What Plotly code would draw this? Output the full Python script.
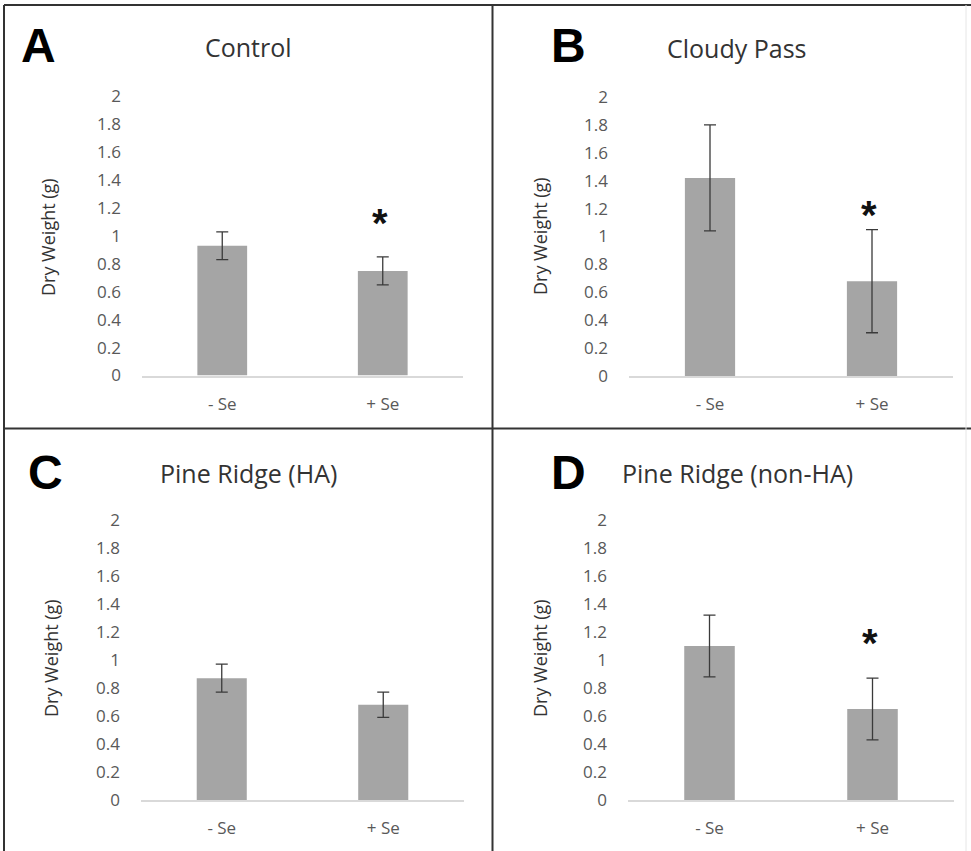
import plotly.graph_objects as go

W, H = 971, 851

# Data
categories = ["- Se", "+ Se"]
panel_letters = ["A", "B", "C", "D"]
panel_titles = ["Control", "Cloudy Pass", "Pine Ridge (HA)", "Pine Ridge (non-HA)"]
means_control = [0.93, 0.75]
err_control = [0.10, 0.10]
means_cloudy = [1.42, 0.68]
err_cloudy = [0.38, 0.37]
means_pr_ha = [0.87, 0.68]
err_pr_ha = [0.10, 0.09]
means_pr_nonha = [1.10, 0.65]
err_pr_nonha = [0.22, 0.22]
# significance marker height (in axis units) per panel, None = no marker
star_control = 1.125
star_cloudy = 1.18
star_pr_ha = None
star_pr_nonha = 1.15
y_ticks = [0, 0.2, 0.4, 0.6, 0.8, 1, 1.2, 1.4, 1.6, 1.8, 2]
y_tick_text = ["0", "0.2", "0.4", "0.6", "0.8", "1", "1.2", "1.4", "1.6", "1.8", "2"]

panels = [
    (means_control, err_control, star_control),
    (means_cloudy, err_cloudy, star_cloudy),
    (means_pr_ha, err_pr_ha, star_pr_ha),
    (means_pr_nonha, err_pr_nonha, star_pr_nonha),
]

# pixel geometry of each plot area: (x0, x1, y_top, y_bottom)
boxes = [
    (142, 463, 96.5, 375.5),
    (629, 953, 97, 376),
    (141, 464, 520, 800),
    (628, 954, 520, 800),
]
# panel letter / title / axis-title positions in px
letter_pos = [(38, 45), (568, 45), (45, 472), (568, 472)]
title_pos = [(248, 47), (737, 48), (248, 473), (737, 473)]
ytitle_pos = [(48, 237), (540, 236), (51, 658), (540, 658)]

def px(x):
    return x / W

def py(y):
    return 1 - y / H

fig = go.Figure()
annotations = []
shapes = []

BAR = "#a5a5a5"
TXT = "#595959"
FONT = "Open Sans, Lato, sans-serif"
BOLD = "Liberation Sans, Arial, sans-serif"

for i, ((means, errs, star), (x0, x1, yt, yb)) in enumerate(zip(panels, boxes)):
    n = i + 1
    xa = "x" if n == 1 else f"x{n}"
    ya = "y" if n == 1 else f"y{n}"
    fig.add_trace(go.Bar(
        x=categories, y=means, xaxis=xa, yaxis=ya,
        width=0.31, marker=dict(color=BAR, line=dict(width=0)),
        error_y=dict(type="data", array=errs, visible=True,
                     color="#3a3a3a", thickness=1.3, width=6),
        showlegend=False, hoverinfo="skip",
    ))
    xkey = "xaxis" if n == 1 else f"xaxis{n}"
    ykey = "yaxis" if n == 1 else f"yaxis{n}"
    fig.update_layout(**{
        xkey: dict(domain=[px(x0), px(x1)], anchor=ya, range=[-0.5, 1.5],
                   showline=True, linecolor="#d9d9d9", linewidth=2,
                   showgrid=False, zeroline=False, ticks="", automargin=False,
                   tickfont=dict(family=FONT, size=17, color=TXT),
                   ticklabelstandoff=12, fixedrange=True),
        ykey: dict(domain=[py(yb), py(yt)], anchor=xa, range=[0, 2],
                   tickvals=y_ticks, ticktext=y_tick_text,
                   showline=False, showgrid=False, zeroline=False, ticks="",
                   automargin=False,
                   tickfont=dict(family=FONT, size=17, color=TXT),
                   ticklabelstandoff=20, fixedrange=True),
    })
    if star is not None:
        annotations.append(dict(
            x=categories[1], y=star, xref=xa, yref=ya, text="<b>*</b>",
            showarrow=False, yanchor="middle", yshift=-4, xshift=-3,
            font=dict(family=BOLD, size=40, color="#111111"),
        ))
    lx, ly = letter_pos[i]
    annotations.append(dict(
        x=px(lx), y=py(ly), xref="paper", yref="paper", text=f"<b>{panel_letters[i]}</b>",
        showarrow=False, xanchor="center", yanchor="middle",
        font=dict(family=BOLD, size=48, color="#000000"),
    ))
    tx, ty = title_pos[i]
    annotations.append(dict(
        x=px(tx), y=py(ty), xref="paper", yref="paper", text=panel_titles[i],
        showarrow=False, xanchor="center", yanchor="middle",
        font=dict(family=FONT, size=25, color="#333333"),
    ))
    ax_, ay_ = ytitle_pos[i]
    annotations.append(dict(
        x=px(ax_), y=py(ay_), xref="paper", yref="paper", text="Dry Weight (g)",
        showarrow=False, xanchor="center", yanchor="middle", textangle=-90,
        font=dict(family=FONT, size=18, color="#333333"),
    ))

# panel frame lines
frame = dict(color="#333333", width=2)
for (xa0, ya0, xa1, ya1) in [
    (4, 5, 971, 5),          # top
    (4, 5, 4, 851),          # left
    (492.5, 5, 492.5, 851),  # middle vertical
    (4, 428.5, 971, 428.5),  # middle horizontal
]:
    shapes.append(dict(type="line", xref="paper", yref="paper",
                       x0=px(xa0), y0=py(ya0), x1=px(xa1), y1=py(ya1), line=frame))
shapes.append(dict(type="line", xref="paper", yref="paper",
                   x0=px(966), y0=py(5), x1=px(966), y1=py(851),
                   line=dict(color="#e6e6e6", width=1)))

fig.update_layout(
    width=W, height=H, margin=dict(l=0, r=0, t=0, b=0, autoexpand=False),
    paper_bgcolor="white", plot_bgcolor="white",
    bargap=0.69, annotations=annotations, shapes=shapes,
)

fig.write_html("out.html")
